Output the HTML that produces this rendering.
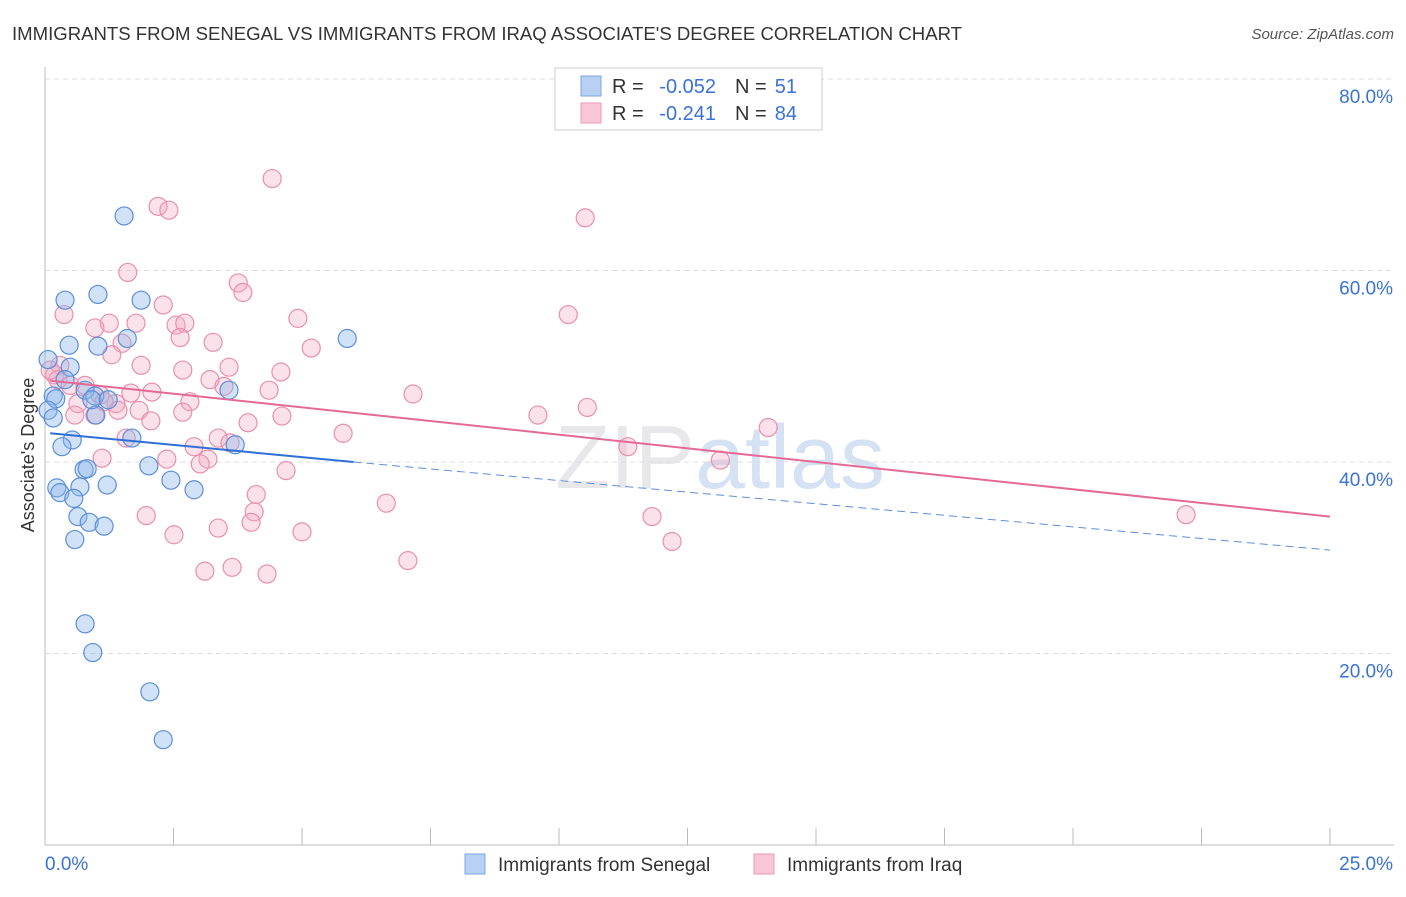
<!DOCTYPE html>
<html><head><meta charset="utf-8"><style>
body{margin:0;background:#fff;font-family:"Liberation Sans",sans-serif}
svg text{font-family:"Liberation Sans",sans-serif}
</style></head><body>
<svg id="c" width="1406" height="892" viewBox="0 0 1406 892">
<text x="12" y="40" font-size="18" fill="#333" textLength="950" lengthAdjust="spacingAndGlyphs">IMMIGRANTS FROM SENEGAL VS IMMIGRANTS FROM IRAQ ASSOCIATE'S DEGREE CORRELATION CHART</text>
<text x="1394" y="39" font-size="15" fill="#555" text-anchor="end" font-style="italic">Source: ZipAtlas.com</text>
<text x="34" y="455" font-size="18" fill="#333" text-anchor="middle" transform="rotate(-90 34 455)">Associate's Degree</text>
<text x="720" y="488" font-size="90" fill="#e8e8ea" text-anchor="middle" font-family="Liberation Serif">ZIP<tspan fill="#d5e2f3">atlas</tspan></text>
<g id="grid"></g><g id="pts"></g><g id="lines"></g>
<g>
<rect x="555" y="68" width="267" height="62" fill="#fff" stroke="#ccc"/>
<rect x="581" y="76" width="20" height="20" fill="#b8d1f3" stroke="#7aa6e0"/>
<rect x="581" y="103" width="20" height="20" fill="#f8c6d6" stroke="#eb9ab5"/>
<text x="612" y="93" font-size="20" fill="#333">R =</text>
<text x="716" y="93" font-size="20" fill="#3a72d8" text-anchor="end">-0.052</text>
<text x="735" y="93" font-size="20" fill="#333">N =</text>
<text x="797" y="93" font-size="20" fill="#3a72d8" text-anchor="end">51</text>
<text x="612" y="120" font-size="20" fill="#333">R =</text>
<text x="716" y="120" font-size="20" fill="#3a72d8" text-anchor="end">-0.241</text>
<text x="735" y="120" font-size="20" fill="#333">N =</text>
<text x="797" y="120" font-size="20" fill="#3a72d8" text-anchor="end">84</text>
</g>
<g>
<rect x="465" y="854" width="20" height="20" fill="#b8d1f3" stroke="#7aa6e0"/>
<text x="498" y="871" font-size="19" fill="#333">Immigrants from Senegal</text>
<rect x="754" y="854" width="20" height="20" fill="#f8c6d6" stroke="#eb9ab5"/>
<text x="787" y="871" font-size="19" fill="#333">Immigrants from Iraq</text>
</g>
</svg>
<script>
const yTicks=[20,40,60,80];
const xTickLabels=["0.0%","25.0%"];
const senegalX=[1.54,0.39,1.03,1.87,5.88,0.47,1.03,1.60,0.06,0.49,0.39,0.78,0.97,0.16,0.21,0.06,0.99,0.16,0.53,1.69,0.33,3.58,3.70,0.76,0.82,2.02,1.21,2.45,2.90,0.68,0.23,0.29,0.56,0.64,0.86,1.15,0.58,0.78,0.93,2.04,2.30,0.91,1.23];
const senegalY=[65.7,56.9,57.5,56.9,52.9,52.2,52.1,52.9,50.7,49.9,48.6,47.5,46.9,46.9,46.6,45.4,44.9,44.6,42.3,42.5,41.6,47.5,41.8,39.2,39.3,39.6,37.6,38.1,37.1,37.4,37.3,36.8,36.2,34.3,33.7,33.3,31.9,23.1,20.1,16.0,11.0,46.5,46.5];
const iraqX=[4.42,2.20,2.41,10.51,1.61,3.76,3.85,2.30,0.37,10.18,4.92,1.25,1.77,0.97,2.55,2.72,2.63,3.27,5.18,1.50,1.30,1.87,2.68,3.58,4.59,0.29,0.19,3.21,3.48,4.36,2.08,1.67,7.16,1.07,2.82,1.38,0.64,10.55,1.83,1.42,2.68,0.58,0.97,4.61,9.59,2.06,3.95,5.80,14.07,1.58,3.37,3.60,2.90,11.34,1.11,2.37,3.17,3.02,13.14,4.69,4.11,6.64,4.07,1.97,11.81,22.20,4.01,3.37,5.00,2.51,12.20,7.06,3.64,3.11,4.32,0.25,0.49,0.78,0.10,1.15];
const iraqY=[69.6,66.7,66.3,65.5,59.8,58.7,57.7,56.4,55.4,55.4,55.0,54.5,54.5,54.0,54.3,54.5,53.0,52.5,51.9,52.4,51.2,50.1,49.6,49.9,49.4,50.1,49.1,48.6,47.9,47.5,47.3,47.2,47.1,47.0,46.3,46.1,46.1,45.7,45.4,45.4,45.2,44.9,44.9,44.8,44.9,44.3,44.1,43.0,43.6,42.5,42.5,42.0,41.6,41.6,40.4,40.3,40.3,39.8,40.2,39.1,36.6,35.7,34.8,34.4,34.3,34.5,33.7,33.1,32.7,32.4,31.7,29.7,29.0,28.6,28.3,48.6,48.0,48.0,49.6,46.3];
const senegalTrend=[43.0,40.0,30.8]; // at x=0, 6, 25
const iraqTrend=[48.5,34.3]; // at x=0, 25
const NS="http://www.w3.org/2000/svg";
const sx=v=>45+v/25*1285, sy=v=>845-v*9.575;
function mk(t,a,p){const e=document.createElementNS(NS,t);for(const k in a)e.setAttribute(k,a[k]);p.appendChild(e);return e;}
const g=document.getElementById('grid');
mk('line',{x1:45,y1:67,x2:45,y2:845,stroke:'#bbb'},g);
mk('line',{x1:45,y1:845,x2:1394,y2:845,stroke:'#bbb'},g);
yTicks.forEach(t=>{
 const l=mk('line',{x1:45,y1:sy(t),x2:1394,y2:sy(t),stroke:'#ddd','stroke-dasharray':'5,4'},g);
 
 
 const tx=mk('text',{x:1393,y:sy(t)+24,'font-size':19,fill:'#3a72d8','text-anchor':'end'},g);
 tx.textContent=t.toFixed(1)+'%';
 
 
});
for(let i=1;i<=10;i++){const x=sx(i*2.5);const l=mk('line',{x1:x,y1:828,x2:x,y2:845,stroke:'#bbb'},g);
 
 }
const a=mk('text',{x:45,y:870,'font-size':19,fill:'#3a72d8'},g);a.textContent=xTickLabels[0];


const b=mk('text',{x:1393,y:870,'font-size':19,fill:'#3a72d8','text-anchor':'end'},g);b.textContent=xTickLabels[1];


const P=document.getElementById('pts');
iraqX.forEach((v,i)=>{const c=mk('circle',{cx:sx(v),cy:sy(iraqY[i]),r:9,fill:'rgba(244,168,195,0.35)',stroke:'#e890ae','stroke-width':1.2},P);
 
 });
senegalX.forEach((v,i)=>{const c=mk('circle',{cx:sx(v),cy:sy(senegalY[i]),r:9,fill:'rgba(140,182,235,0.4)',stroke:'#5b8fd9','stroke-width':1.2},P);
 
 });
const L=document.getElementById('lines');
let l1=mk('line',{x1:sx(0.1),y1:sy(senegalTrend[0]),x2:sx(6),y2:sy(senegalTrend[1]),stroke:'#2f6fd6','stroke-width':2},L);


let l2=mk('line',{x1:sx(6),y1:sy(senegalTrend[1]),x2:sx(25),y2:sy(senegalTrend[2]),stroke:'#5b8fd9','stroke-width':1,'stroke-dasharray':'8,5'},L);


let l3=mk('line',{x1:sx(0.1),y1:sy(iraqTrend[0]),x2:sx(25),y2:sy(iraqTrend[1]),stroke:'#e46a95','stroke-width':2},L);


</script>
</body></html>
